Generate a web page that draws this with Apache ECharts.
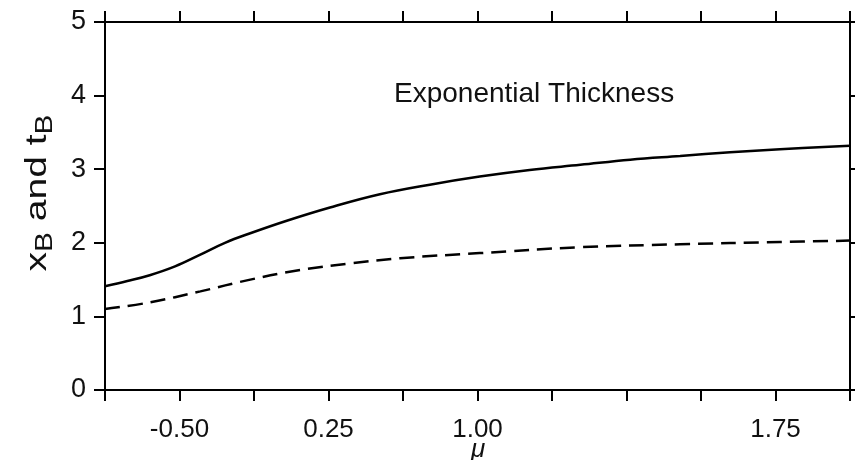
<!DOCTYPE html>
<html>
<head>
<meta charset="utf-8">
<script src="https://cdn.jsdelivr.net/npm/echarts@6/dist/echarts.min.js"></script>
<style>html,body{margin:0;padding:0;background:#fff;}#c{width:855px;height:460px;}</style>
</head>
<body>
<div id="c"></div>
<script>
// x positions are in units of the axis tick spacing (0 = left edge, 10 = right edge)
const xTickLabels = ['', '-0.50', '', '0.25', '', '1.00', '', '', '', '1.75', ''];
const yTickLabels = ['0', '1', '2', '3', '4', '5'];
const solidX = [0, 0.3, 0.6, 0.94, 1.28, 1.61, 1.95, 2.44, 3.02, 3.69, 4.36, 5.03, 5.7, 6.38, 7.05, 7.72, 8.39, 9.06, 10];
const solidY = [1.41, 1.48, 1.56, 1.68, 1.84, 2.00, 2.13, 2.30, 2.48, 2.66, 2.79, 2.90, 2.99, 3.06, 3.13, 3.18, 3.23, 3.27, 3.32];
const dashX = [0, 0.6, 1.28, 1.95, 2.62, 3.29, 3.96, 5.03, 6.38, 7.72, 9.06, 10];
const dashY = [1.10, 1.19, 1.34, 1.50, 1.63, 1.72, 1.79, 1.86, 1.94, 1.98, 2.01, 2.03];
const annotation = 'Exponential Thickness';
const xName = 'μ';

const FONT = '"Liberation Sans", Arial, Helvetica, sans-serif';
const chart = echarts.init(document.getElementById('c'), null, {renderer: 'canvas'});
const axisLine = {show: true, onZero: false, lineStyle: {color: '#000', width: 2}};
const tick = {show: true, length: 11, inside: false, lineStyle: {color: '#000', width: 2}};
chart.setOption({
  backgroundColor: '#fff',
  animation: false,
  grid: {left: 105, right: 5, top: 22, bottom: 70, containLabel: false, outerBoundsMode: 'none'},
  xAxis: [{
    type: 'value', min: 0, max: 10, interval: 1, position: 'bottom',
    axisLine: axisLine, axisTick: tick, splitLine: {show: false},
    axisLabel: {margin: 27, fontSize: 26, color: '#111', fontFamily: FONT,
      formatter: v => xTickLabels[Math.round(v)] || ''}
  }, {
    type: 'value', min: 0, max: 10, interval: 1, position: 'top',
    axisLine: axisLine, axisTick: tick, splitLine: {show: false}, axisLabel: {show: false}
  }],
  yAxis: [{
    type: 'value', min: 0, max: 5, interval: 1, position: 'left',
    axisLine: axisLine, axisTick: tick, splitLine: {show: false},
    axisLabel: {margin: 19, fontSize: 27, color: '#111', fontFamily: FONT,
      formatter: v => yTickLabels[Math.round(v)]}
  }, {
    type: 'value', min: 0, max: 5, interval: 1, position: 'right',
    axisLine: axisLine, axisTick: tick, splitLine: {show: false}, axisLabel: {show: false}
  }],
  graphic: [{
    type: 'text', left: 394, top: 80,
    style: {text: annotation, fontSize: 28, fill: '#111', fontFamily: FONT}
  }, {
    type: 'text', x: 478, y: 450,
    style: {text: xName, fontSize: 26, fontStyle: 'italic', fill: '#111', fontFamily: FONT,
      align: 'center', verticalAlign: 'middle'}
  }, {
    type: 'text', x: 38, y: 193, rotation: Math.PI / 2, scaleX: 1.3,
    style: {
      text: '{m|x}{s|B}{m| and t}{s|B}', align: 'center', verticalAlign: 'middle',
      rich: {
        m: {fontSize: 30, fill: '#111', fontFamily: FONT},
        s: {fontSize: 23, fill: '#111', fontFamily: FONT, verticalAlign: 'bottom', padding: [16, 0, 0, 0]}
      }
    }
  }],
  series: [{
    type: 'line', data: solidX.map((x, i) => [x, solidY[i]]),
    smooth: 0.4, showSymbol: false, clip: false,
    lineStyle: {color: '#000', width: 2.5, type: 'solid'}
  }, {
    type: 'line', data: dashX.map((x, i) => [x, dashY[i]]),
    smooth: 0.4, showSymbol: false, clip: false,
    lineStyle: {color: '#000', width: 2.5, type: [15, 8]}
  }]
});
</script>
</body>
</html>
